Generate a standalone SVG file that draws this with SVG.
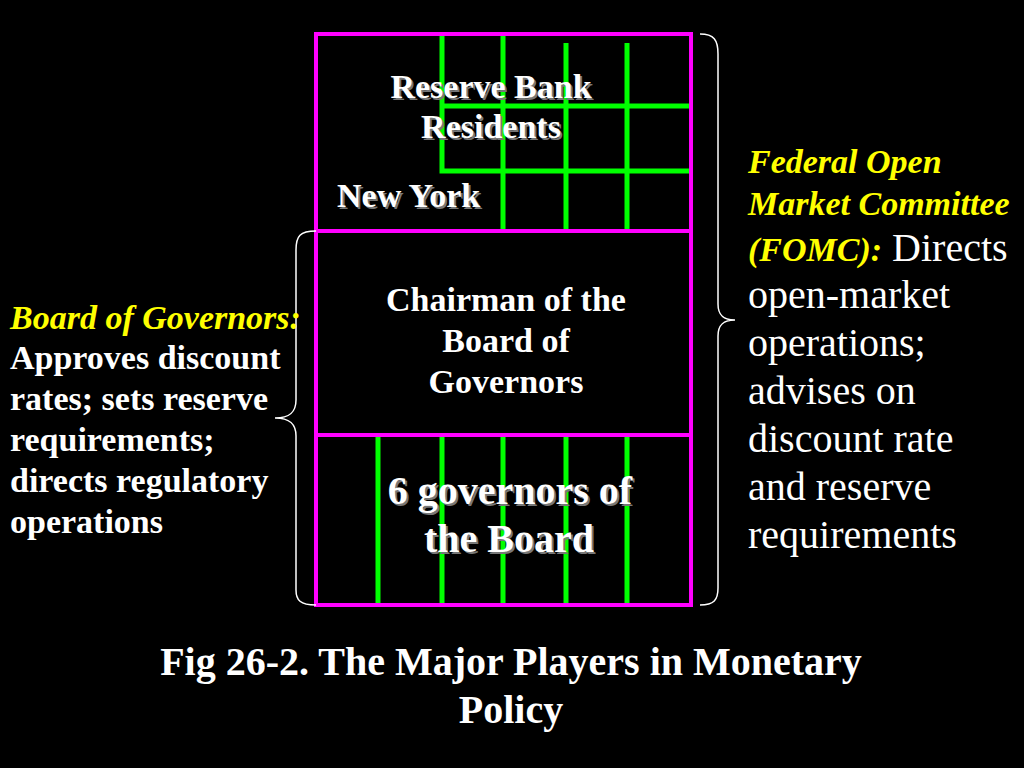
<svg xmlns="http://www.w3.org/2000/svg" width="1024" height="768" viewBox="0 0 1024 768">
<style>
.t{font-family:"Liberation Serif","Times New Roman",serif;fill:#fff}
.b{font-weight:bold}
.i{font-style:italic}
.y{fill:#ffff00}
.sh{fill:#777}
.m{fill:none;stroke:#ff00ff;stroke-width:4}
.g{fill:none;stroke:#00ff00;stroke-width:5}
.br{fill:none;stroke:#fff;stroke-width:1.5}
</style>
<rect width="1024" height="768" fill="#000"/>
<g id="grid-top">
<path class="g" d="M442 35 V171 H690 M442 106 H690 M503 35 V229 M566 43 V229 M627 43 V229"/>
</g>
<g id="grid-bottom">
<path class="g" d="M378 435 V604 M442 435 V604 M503 435 V604 M566 435 V604 M627 435 V604"/>
</g>
<g id="node-reserve-banks">
<rect class="m" x="316" y="34" width="375" height="197"/>
<g class="t b" font-size="34" text-anchor="middle">
<text class="sh" x="493" y="100">Reserve Bank</text>
<text x="491" y="98">Reserve Bank</text>
<text class="sh" x="493" y="140">Residents</text>
<text x="491" y="138">Residents</text>
</g>
<g class="t b" font-size="34">
<text class="sh" x="339" y="209">New York</text>
<text x="337" y="207">New York</text>
</g>
</g>
<g id="node-chairman">
<rect class="m" x="316" y="231" width="375" height="204"/>
<g class="t b" font-size="34" text-anchor="middle">
<text x="506" y="311">Chairman of the</text>
<text x="506" y="352">Board of</text>
<text x="506" y="393">Governors</text>
</g>
</g>
<g id="node-governors">
<rect class="m" x="316" y="435" width="375" height="170"/>
<g class="t b" font-size="40" text-anchor="middle">
<text class="sh" x="512" y="506">6 governors of</text>
<text x="510" y="504">6 governors of</text>
<text class="sh" x="511" y="554">the Board</text>
<text x="509" y="552">the Board</text>
</g>
</g>
<g id="connectors">
<path class="br" d="M316 231 C300 231 296 236 296 250 V400 C296 412 290 418 275 418 C290 418 296 424 296 436 V590 C296 600 300 605 316 605"/>
<path class="br" d="M700 34 C714 34 718 40 718 54 V304 C718 314 722 320 735 320 C722 320 718 326 718 336 V588 C718 600 714 605 700 605"/>
</g>
<g id="board-label">
<text class="t b i y" font-size="34" x="10" y="329">Board of Governors:</text>
<g class="t b" font-size="34">
<text x="10" y="369">Approves discount</text>
<text x="10" y="410">rates; sets reserve</text>
<text x="10" y="451">requirements;</text>
<text x="10" y="492">directs regulatory</text>
<text x="10" y="533">operations</text>
</g>
</g>
<g id="fomc-label">
<text class="t b i y" font-size="34" x="748" y="173">Federal Open</text>
<text class="t b i y" font-size="34" x="748" y="215">Market Committee</text>
<text class="t" font-size="40" x="748" y="261"><tspan class="b i y" font-size="34">(FOMC):</tspan> Directs</text>
<g class="t" font-size="40">
<text x="748" y="308">open-market</text>
<text x="748" y="356">operations;</text>
<text x="748" y="404">advises on</text>
<text x="748" y="452">discount rate</text>
<text x="748" y="500">and reserve</text>
<text x="748" y="548">requirements</text>
</g>
</g>
<g id="caption" class="t b" font-size="40" text-anchor="middle">
<text x="511" y="675">Fig 26-2. The Major Players in Monetary</text>
<text x="511" y="723">Policy</text>
</g>
</svg>
